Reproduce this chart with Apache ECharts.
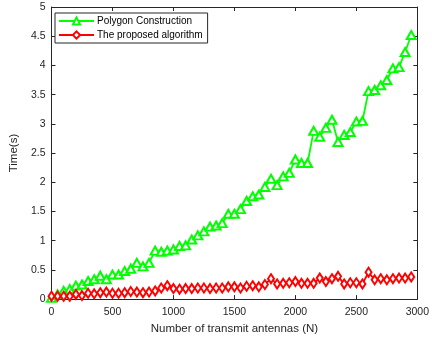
<!DOCTYPE html>
<html>
<head>
<meta charset="utf-8">
<script src="https://cdn.jsdelivr.net/npm/echarts@6/dist/echarts.min.js"></script>
<style>
  html, body { margin: 0; padding: 0; background: #fff; }
  #main { width: 432px; height: 340px; }
</style>
</head>
<body>
<div id="main"></div>
<script>
// antenna counts, 0..2950 step 50
var antennas = [];
for (var n = 0; n < 60; n++) antennas.push(n * 50);

var polygonTime = [0.02, 0.08, 0.14, 0.17, 0.23, 0.25, 0.31, 0.34, 0.40, 0.34,
  0.42, 0.42, 0.48, 0.52, 0.62, 0.56, 0.62, 0.83, 0.81, 0.83,
  0.85, 0.91, 0.92, 1.02, 1.09, 1.16, 1.24, 1.26, 1.30, 1.46,
  1.46, 1.54, 1.68, 1.76, 1.79, 1.92, 2.06, 1.95, 2.10, 2.16,
  2.39, 2.33, 2.33, 2.88, 2.78, 2.93, 3.07, 2.69, 2.81, 2.86,
  3.04, 3.05, 3.56, 3.58, 3.66, 3.75, 3.95, 3.97, 4.23, 4.52];

var proposedTime = [0.05, 0.05, 0.05, 0.05, 0.08, 0.06, 0.10, 0.09, 0.11, 0.12,
  0.10, 0.10, 0.11, 0.13, 0.12, 0.11, 0.12, 0.14, 0.19, 0.23,
  0.18, 0.17, 0.18, 0.18, 0.19, 0.19, 0.18, 0.19, 0.19, 0.21,
  0.21, 0.19, 0.22, 0.23, 0.21, 0.25, 0.35, 0.26, 0.27, 0.28,
  0.30, 0.27, 0.27, 0.27, 0.36, 0.30, 0.35, 0.39, 0.26, 0.28,
  0.28, 0.26, 0.46, 0.33, 0.35, 0.33, 0.35, 0.36, 0.36, 0.38];

var seriesNames = ['Polygon Construction', 'The proposed algorithm'];

function pairs(ys) {
  return ys.map(function (y, i) { return [antennas[i], y]; });
}

var axisColor = '#262626';
var font = 'Liberation Sans, Arial, Helvetica, sans-serif';

var myChart = echarts.init(document.getElementById('main'));
var option = {
  animation: false,
  textStyle: { fontFamily: font },
  grid: { left: 48, right: 11, top: 7, bottom: 39 },
  legend: {
    orient: 'vertical',
    left: 55, top: 13,
    padding: [3, 5, 3, 3],
    itemGap: 4,
    itemWidth: 35,
    itemHeight: 9,
    borderColor: axisColor,
    borderWidth: 1,
    backgroundColor: '#fff',
    textStyle: { fontSize: 10, color: '#000', padding: [0, 0, 0, -2] },
    data: seriesNames
  },
  xAxis: [{
    type: 'value', min: 0, max: 3000, interval: 500,
    name: 'Number of transmit antennas (N)',
    nameLocation: 'middle', nameGap: 22,
    nameTextStyle: { fontSize: 11.5, color: axisColor },
    axisLine: { onZero: false, lineStyle: { color: axisColor, width: 1 } },
    axisTick: { inside: true, length: 4, lineStyle: { color: axisColor } },
    axisLabel: { fontSize: 10.5, color: axisColor, margin: 8,
      formatter: function (v) { return String(v); } },
    splitLine: { show: false }
  }, {
    type: 'value', min: 0, max: 3000, interval: 500, position: 'top',
    axisLine: { show: true, onZero: false, lineStyle: { color: axisColor, width: 1 } },
    axisTick: { inside: true, length: 4, lineStyle: { color: axisColor } },
    axisLabel: { show: false },
    splitLine: { show: false }
  }],
  yAxis: [{
    type: 'value', min: 0, max: 5, interval: 0.5,
    name: 'Time(s)',
    nameLocation: 'middle', nameGap: 23,
    nameTextStyle: { fontSize: 11.5, color: axisColor },
    axisLine: { show: true, onZero: false, lineStyle: { color: axisColor, width: 1 } },
    axisTick: { show: true, inside: true, length: 4, lineStyle: { color: axisColor } },
    axisLabel: { fontSize: 10.5, color: axisColor, margin: 6 },
    splitLine: { show: false }
  }, {
    type: 'value', min: 0, max: 5, interval: 0.5, position: 'right',
    axisLine: { show: true, onZero: false, lineStyle: { color: axisColor, width: 1 } },
    axisTick: { show: true, inside: true, length: 4, lineStyle: { color: axisColor } },
    axisLabel: { show: false },
    splitLine: { show: false }
  }],
  series: [{
    name: seriesNames[0],
    type: 'line',
    data: pairs(polygonTime),
    symbol: 'emptyTriangle',
    symbolSize: [9, 8],
    showAllSymbol: true,
    color: '#00ff00',
    lineStyle: { width: 1.8, color: '#00ff00' },
    itemStyle: { color: '#00ff00', borderWidth: 1.5 }
  }, {
    name: seriesNames[1],
    type: 'line',
    data: pairs(proposedTime),
    symbol: 'emptyDiamond',
    symbolSize: [6, 9],
    showAllSymbol: true,
    color: '#ff0000',
    lineStyle: { width: 1.8, color: '#ff0000' },
    itemStyle: { color: '#ff0000', borderWidth: 1.5 }
  }]
};
myChart.setOption(option);
</script>
</body>
</html>
